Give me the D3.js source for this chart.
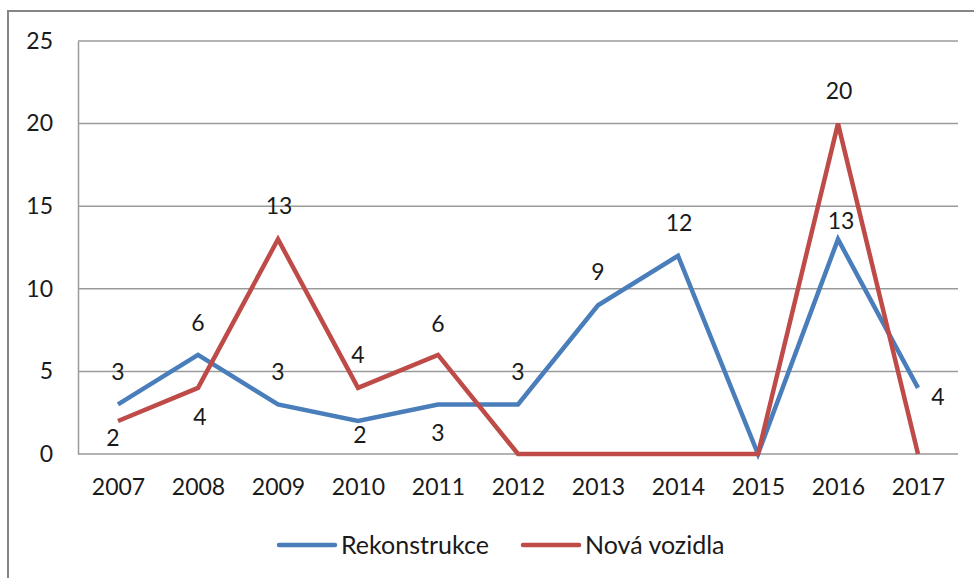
<!DOCTYPE html>
<html><head><meta charset="utf-8">
<script src="https://cdn.jsdelivr.net/npm/d3@7"></script>
<style>html,body{margin:0;padding:0;background:#fff;}svg{display:block;}</style>
</head><body>
<script>
const years = ["2007","2008","2009","2010","2011","2012","2013","2014","2015","2016","2017"];
const rekonstrukce = [3,6,3,2,3,3,9,12,0,13,4];
const novaVozidla = [2,4,13,4,6,0,0,0,0,20,0];
const yTicks = [0,5,10,15,20,25];
const seriesNames = ["Rekonstrukce","Nová vozidla"];
// which points carry a value label (zeros are unlabeled)
const rekLabelShown = [1,1,1,1,1,1,1,1,0,1,1];
const novLabelShown = [1,1,1,1,1,0,0,0,0,1,0];

// layout: label offsets (dx, dy) from the point, in px
const rekLabelOff = [[0,-32],[0,-32],[0,-32],[2,14],[0,29],[0,-32],[0,-33],[1,-33],[0,0],[3,-18],[20,9]];
const novLabelOff = [[-5,17],[2,29],[1,-33],[0,-33],[0,-31],[0,0],[0,0],[0,0],[0,0],[1,-33],[0,0]];

const W = 974, H = 578;
const m = {left:78, right:958, top:41, bottom:454};
const font = "Lato, 'Open Sans', sans-serif";
const txt = "#1a1a1a";
const colors = ["#4a7ebb","#be4b48"];

const svg = d3.select("body").append("svg").attr("width",W).attr("height",H);

// outer frame (cut off at right and bottom)
svg.append("rect").attr("x",8).attr("y",11).attr("width",W+20).attr("height",H+20)
  .attr("fill","none").attr("stroke","#868686").attr("stroke-width",2);

const x = d3.scalePoint().domain(years).range([m.left+40, m.right-40]);
const y = d3.scaleLinear().domain([0,25]).range([m.bottom, m.top]);

// gridlines
svg.append("g").selectAll("line").data(yTicks).join("line")
  .attr("x1",m.left).attr("x2",m.right)
  .attr("y1",d=>y(d)).attr("y2",d=>y(d))
  .attr("stroke","#9a9a9a").attr("stroke-width",1.5);

// y axis
const yAxis = svg.append("g").attr("transform",`translate(${m.left},0)`)
  .call(d3.axisLeft(y).tickValues(yTicks).tickSize(0).tickPadding(25));
yAxis.select(".domain").attr("stroke","#9a9a9a").attr("stroke-width",1.5);
yAxis.selectAll("text").attr("font-family",font).attr("font-size",23).attr("fill",txt);

// x axis
const xAxis = svg.append("g").attr("transform",`translate(0,${m.bottom})`)
  .call(d3.axisBottom(x).tickSize(0).tickPadding(25));
xAxis.select(".domain").remove();
xAxis.selectAll("text").attr("font-family",font).attr("font-size",23).attr("fill",txt);

const line = d3.line().x((d,i)=>x(years[i])).y(d=>y(d));
const series = [
  {vals:rekonstrukce, shown:rekLabelShown, off:rekLabelOff, color:colors[0]},
  {vals:novaVozidla, shown:novLabelShown, off:novLabelOff, color:colors[1]}
];
series.forEach(s=>{
  svg.append("path").datum(s.vals).attr("d",line)
    .attr("fill","none").attr("stroke",s.color).attr("stroke-width",4.5)
    .attr("stroke-linejoin","miter");
});
series.forEach(s=>{
  svg.append("g").selectAll("text").data(s.vals.map((v,i)=>({v,i}))).join("text")
    .filter(d=>s.shown[d.i])
    .attr("x",d=>x(years[d.i])+s.off[d.i][0])
    .attr("y",d=>y(d.v)+s.off[d.i][1])
    .attr("dy","0.35em").attr("text-anchor","middle")
    .attr("font-family",font).attr("font-size",23).attr("fill",txt)
    .text(d=>d.v);
});

// legend
const leg = svg.append("g");
const legX = [279, 523];
seriesNames.forEach((n,i)=>{
  leg.append("line").attr("x1",legX[i]).attr("x2",legX[i]+56).attr("y1",545).attr("y2",545)
    .attr("stroke",colors[i]).attr("stroke-width",4.5).attr("stroke-linecap","round");
  leg.append("text").attr("x",legX[i]+62).attr("y",545).attr("dy","0.35em")
    .attr("font-family",font).attr("font-size",25).attr("fill",txt).text(n);
});
</script>
</body></html>
